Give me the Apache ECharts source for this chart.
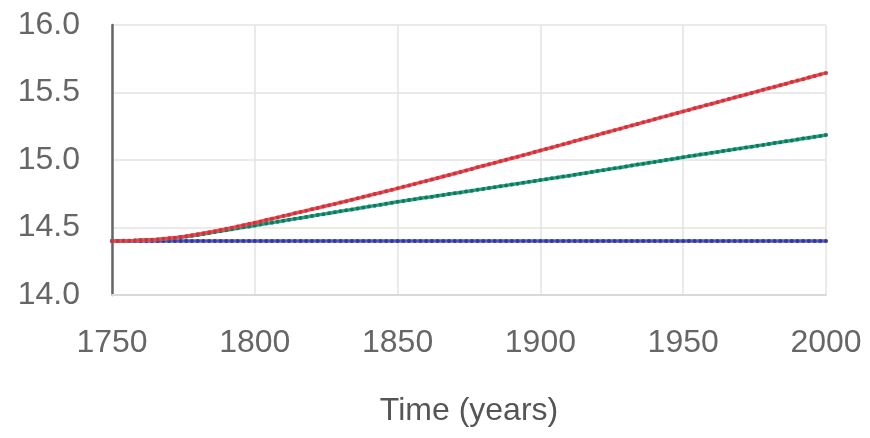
<!DOCTYPE html>
<html>
<head>
<meta charset="utf-8">
<script src="https://cdn.jsdelivr.net/npm/echarts@6/dist/echarts.min.js"></script>
<style>
html,body{margin:0;padding:0;background:#fff;}
#chart{width:870px;height:438px;}
</style>
</head>
<body>
<div id="chart"></div>
<script>
const years = [1750,1752,1754,1756,1758,1760,1762,1764,1766,1768,1770,1772,1774,1776,1778,1780,1782,1784,1786,1788,1790,1792,1794,1796,1798,1800,1802,1804,1806,1808,1810,1812,1814,1816,1818,1820,1822,1824,1826,1828,1830,1832,1834,1836,1838,1840,1842,1844,1846,1848,1850,1852,1854,1856,1858,1860,1862,1864,1866,1868,1870,1872,1874,1876,1878,1880,1882,1884,1886,1888,1890,1892,1894,1896,1898,1900,1902,1904,1906,1908,1910,1912,1914,1916,1918,1920,1922,1924,1926,1928,1930,1932,1934,1936,1938,1940,1942,1944,1946,1948,1950,1952,1954,1956,1958,1960,1962,1964,1966,1968,1970,1972,1974,1976,1978,1980,1982,1984,1986,1988,1990,1992,1994,1996,1998,2000];

const redValues = [14.400,14.400,14.401,14.402,14.403,14.405,14.407,14.409,14.412,14.416,14.420,14.425,14.430,14.436,14.443,14.450,14.457,14.465,14.473,14.481,14.490,14.499,14.508,14.517,14.526,14.535,14.545,14.555,14.565,14.575,14.585,14.595,14.605,14.615,14.625,14.635,14.645,14.655,14.665,14.675,14.685,14.695,14.706,14.716,14.727,14.737,14.748,14.758,14.769,14.779,14.790,14.801,14.812,14.823,14.834,14.845,14.856,14.867,14.878,14.889,14.900,14.911,14.923,14.934,14.946,14.957,14.968,14.979,14.991,15.002,15.013,15.024,15.036,15.047,15.059,15.070,15.082,15.093,15.105,15.116,15.128,15.140,15.151,15.163,15.174,15.186,15.198,15.209,15.221,15.232,15.244,15.256,15.267,15.279,15.290,15.302,15.314,15.325,15.337,15.348,15.360,15.371,15.383,15.394,15.406,15.417,15.428,15.440,15.451,15.463,15.474,15.485,15.497,15.508,15.520,15.531,15.542,15.554,15.565,15.577,15.588,15.599,15.611,15.622,15.634,15.645];

const greenValues = [14.400,14.400,14.401,14.402,14.403,14.405,14.407,14.409,14.412,14.415,14.418,14.423,14.428,14.433,14.439,14.445,14.452,14.459,14.466,14.473,14.480,14.487,14.494,14.501,14.508,14.515,14.522,14.529,14.536,14.543,14.550,14.557,14.564,14.571,14.578,14.585,14.592,14.599,14.606,14.613,14.620,14.627,14.634,14.641,14.648,14.655,14.662,14.669,14.676,14.683,14.690,14.696,14.703,14.709,14.716,14.722,14.728,14.735,14.741,14.748,14.754,14.760,14.767,14.773,14.780,14.786,14.792,14.799,14.805,14.812,14.818,14.825,14.831,14.838,14.844,14.851,14.857,14.864,14.871,14.877,14.884,14.891,14.898,14.904,14.911,14.918,14.925,14.932,14.938,14.945,14.952,14.959,14.966,14.972,14.979,14.986,14.993,15.000,15.006,15.013,15.020,15.027,15.033,15.040,15.046,15.053,15.060,15.066,15.073,15.079,15.086,15.093,15.099,15.106,15.112,15.119,15.126,15.132,15.139,15.145,15.152,15.159,15.165,15.172,15.178,15.185];

const blueValues = [14.4,14.4,14.4,14.4,14.4,14.4,14.4,14.4,14.4,14.4,14.4,14.4,14.4,14.4,14.4,14.4,14.4,14.4,14.4,14.4,14.4,14.4,14.4,14.4,14.4,14.4,14.4,14.4,14.4,14.4,14.4,14.4,14.4,14.4,14.4,14.4,14.4,14.4,14.4,14.4,14.4,14.4,14.4,14.4,14.4,14.4,14.4,14.4,14.4,14.4,14.4,14.4,14.4,14.4,14.4,14.4,14.4,14.4,14.4,14.4,14.4,14.4,14.4,14.4,14.4,14.4,14.4,14.4,14.4,14.4,14.4,14.4,14.4,14.4,14.4,14.4,14.4,14.4,14.4,14.4,14.4,14.4,14.4,14.4,14.4,14.4,14.4,14.4,14.4,14.4,14.4,14.4,14.4,14.4,14.4,14.4,14.4,14.4,14.4,14.4,14.4,14.4,14.4,14.4,14.4,14.4,14.4,14.4,14.4,14.4,14.4,14.4,14.4,14.4,14.4,14.4,14.4,14.4,14.4,14.4,14.4,14.4,14.4,14.4,14.4,14.4];

const xTitle = 'Time (years)';

function pairs(vals){ return years.map((y,i)=>[y, vals[i]]); }

const FONT = '"Liberation Sans", Arial, sans-serif';

function lineSeries(name, vals, lineColor, dotColor, z){
  return {
    name: name, type: 'line', data: pairs(vals), z: z,
    showSymbol: true, symbol: 'circle', symbolSize: 4,
    itemStyle: {color: dotColor},
    lineStyle: {color: lineColor, width: 3.5},
    emphasis: {disabled: true},
    animation: false
  };
}

const chart = echarts.init(document.getElementById('chart'), null, {renderer: 'canvas'});
chart.setOption({
  backgroundColor: '#ffffff',
  animation: false,
  grid: {left: 112, right: 44, top: 25, bottom: 143, containLabel: false},
  xAxis: {
    type: 'value', min: 1750, max: 2000, interval: 50,
    name: xTitle, nameLocation: 'middle', nameGap: 100,
    nameTextStyle: {fontSize: 32, color: '#555', fontFamily: FONT},
    axisLine: {show: true, lineStyle: {color: '#d9d9d9', width: 2}},
    axisTick: {show: false},
    axisLabel: {fontSize: 32, color: '#666', fontFamily: FONT, margin: 32,
      formatter: v => String(v)},
    splitLine: {show: true, lineStyle: {color: '#e3e3e3', width: 1.5}}
  },
  yAxis: {
    type: 'value', min: 14, max: 16, interval: 0.5,
    axisLine: {show: true, onZero: false, lineStyle: {color: '#666', width: 2.5}},
    axisTick: {show: false},
    axisLabel: {fontSize: 32, color: '#666', fontFamily: FONT, margin: 32,
      formatter: v => v.toFixed(1)},
    splitLine: {show: true, lineStyle: {color: '#e3e3e3', width: 1.5}}
  },
  series: [
    lineSeries('blue', blueValues, '#5a5ec8', '#34389a', 3),
    lineSeries('green', greenValues, '#22a885', '#14785e', 4),
    lineSeries('red', redValues, '#f24b52', '#c8363e', 5)
  ]
});
</script>
</body>
</html>
